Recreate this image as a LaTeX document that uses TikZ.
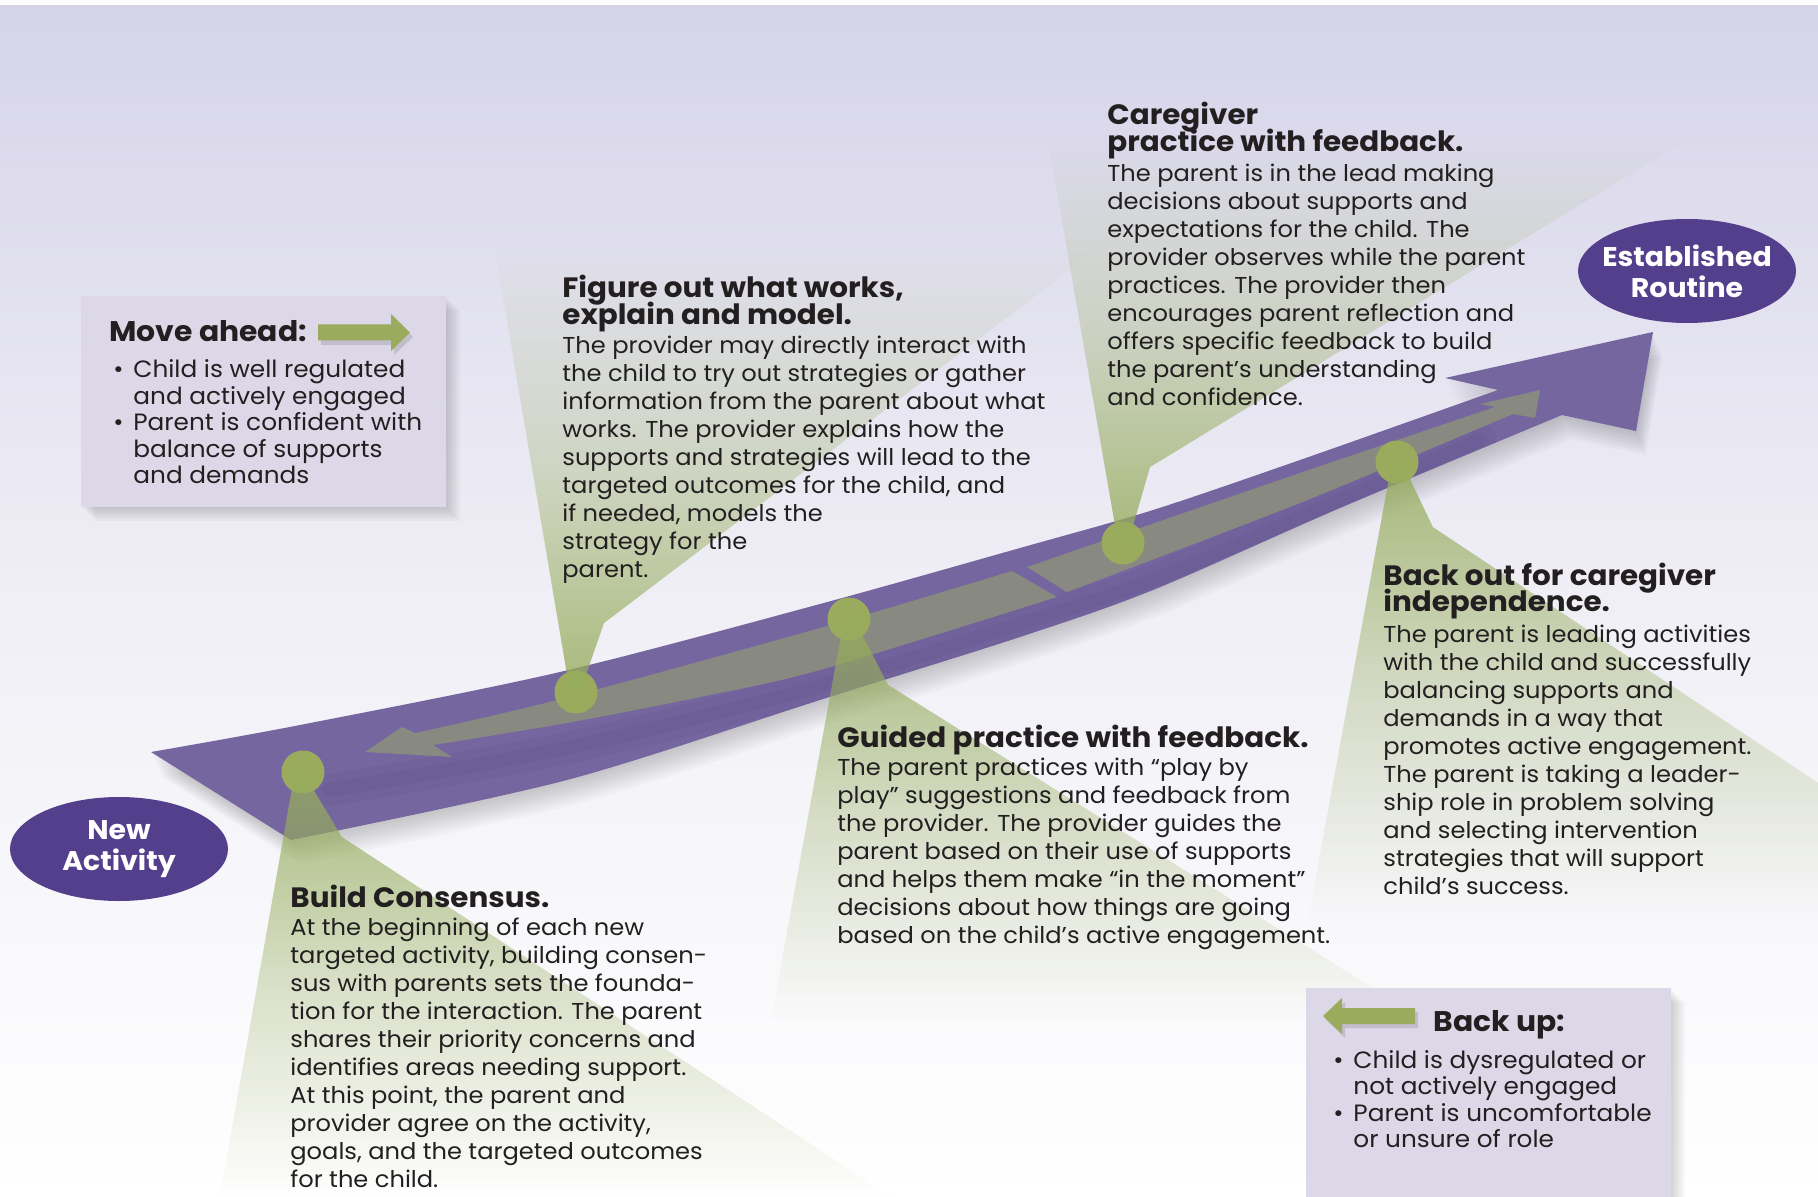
\documentclass[tikz,border=0pt]{standalone}
\usepackage{fontspec}
\setmainfont{Poppins}[FakeStretch=1.05]
\usetikzlibrary{shapes.geometric,fadings,calc}

\definecolor{ink}{HTML}{231F20}
\definecolor{bgtop}{RGB}{213,211,232}
\definecolor{bgmid}{RGB}{240,239,246}
\definecolor{arrowpurple}{RGB}{117,102,160}
\definecolor{arrowdeep}{RGB}{88,72,128}
\definecolor{lanegrey}{RGB}{136,137,128}
\definecolor{leaf}{RGB}{154,171,94}
\definecolor{beamgreen}{RGB}{150,172,92}
\definecolor{badge}{RGB}{83,63,139}
\definecolor{panelfill}{RGB}{220,216,232}

\tikzfading[name=fade down, top color=transparent!5, bottom color=transparent!100, middle color=transparent!62]
\tikzfading[name=fade up, top color=transparent!100, bottom color=transparent!5, middle color=transparent!62]

\newcommand{\bodyfont}{\fontsize{11.5}{14}\selectfont}
\newcommand{\headfont}{\fontsize{14}{13.35}\selectfont\bfseries}
\newcommand{\panelhead}{\fontsize{14.2}{16}\selectfont\bfseries}
\newcommand{\panelfont}{\fontsize{11.8}{13.25}\selectfont}
\newcommand{\badgefont}{\fontsize{13.5}{15.5}\selectfont\bfseries}
% stacked lines, node base = first baseline
\newcommand{\stack}[1]{\vtop{\lineskiplimit=-\maxdimen\let\\\cr\halign{##\hfil\cr#1\crcr}}}
\newcommand{\bulitem}{\makebox[10pt][l]{•}}
\newcommand{\bulind}{\hspace*{10pt}}

% outline of the big purple arrow
\newcommand{\bandoutline}{(151,752) -- plot[smooth] coordinates {(151,752) (300,725) (560,672) (820,604) (1020,548) (1153,510) (1300,460) (1498,390)}
  -- (1445,378) -- (1653,332) -- (1636,431) -- (1562,415)
  -- plot[smooth] coordinates {(1562,415) (1340,508) (1153,590) (1020,637) (820,700) (567,780) (291,840)} -- cycle}

\tikzset{
  leafdot/.style={circle,fill=leaf,minimum size=21.5pt,inner sep=0pt},
  beamdown/.style={fill=beamgreen,fill opacity=0.85,path fading=fade down},
  beamup/.style={fill=beamgreen,fill opacity=0.85,path fading=fade up},
  badgeoval/.style={ellipse,fill=badge,inner sep=0pt,minimum width=109pt,minimum height=52pt},
  badgetext/.style={text=white,font=\badgefont,align=center,inner sep=0pt},
  panelbox/.style={rectangle,fill=panelfill,inner sep=0pt,minimum width=182.5pt},
  txt/.style={anchor=base west,inner sep=0pt,text=ink},
  leafarrow/.style={fill=leaf},
}

\begin{document}
\begin{tikzpicture}[x=0.5pt,y=-0.5pt]
  \useasboundingbox (0,0) rectangle (1818,1197);
  % backdrop
  \fill[top color=bgtop,bottom color=white,middle color=bgmid] (0,0) rectangle (1818,1197);
  \fill[white] (0,0) rectangle (1818,5);

  % soft shadow under the main arrow, then the arrow
  \foreach \s in {3,6,...,24}
    \fill[black,opacity=0.022,shift={(0.4*\s,\s)}] \bandoutline;
  \fill[arrowpurple] \bandoutline;
  \begin{scope}
    \clip \bandoutline;
    \draw[arrowdeep,opacity=0.12,line width=16pt,line cap=round]
      plot[smooth] coordinates {(330,790) (567,748) (820,686) (1020,624) (1153,580) (1340,500) (1480,440)};
    \draw[arrowdeep,opacity=0.12,line width=7pt,line cap=round]
      plot[smooth] coordinates {(330,790) (567,748) (820,686) (1020,624) (1153,580) (1340,500) (1480,440)};
  \end{scope}

  % grey lanes: back up (left) and move ahead (right)
  \fill[lanegrey] (1012,571) -- plot[smooth] coordinates {(1012,571) (820,628) (557,700) (415,733)}
    -- (402,727) -- (365,752) -- (452,757) -- (433,745)
    -- plot[smooth] coordinates {(433,745) (567,723) (700,697) (820,670) (1057,597)} -- cycle;
  \fill[lanegrey] (1027,567) -- plot[smooth] coordinates {(1027,567) (1300,473) (1495,407)}
    -- (1480,404) -- (1540,390) -- (1535,418) -- (1513,414)
    -- plot[smooth] coordinates {(1513,414) (1300,503) (1067,592)} -- cycle;

  % stops on the path
  \node[leafdot] (dotA) at (303,772) {};
  \node[leafdot] (dotB) at (576,692) {};
  \node[leafdot] (dotC) at (849,619) {};
  \node[leafdot] (dotD) at (1123,543) {};
  \node[leafdot] (dotE) at (1397,462) {};

  % spotlights from each stop
  \fill[beamdown] ($(dotA)+(-8,0)$) -- (dotA.center) -- (342,837) -- (892,1197) -- (220,1197) -- cycle;
  \fill[beamup] ($(dotB)+(-6,0)$) -- ($(dotB)+(4,0)$) -- (604,623) -- (1096,250) -- (495,250) -- cycle;
  \fill[beamdown] ($(dotC)+(-5,0)$) -- ($(dotC)+(5,0)$) -- (888,685) -- (1424,1020) -- (771,1020) -- cycle;
  \fill[beamup] ($(dotD)+(-5,0)$) -- ($(dotD)+(5,0)$) -- (1150,467) -- (1686,140) -- (1048,140) -- cycle;
  \fill[beamdown] ($(dotE)+(-5,0)$) -- ($(dotE)+(5,0)$) -- (1433,527) -- (1900,837) -- (1900,920) -- (1308,920) -- cycle;

  % step texts
  \node[txt,font=\headfont] (figtitle) at (562,298) {\stack{Figure out what works,\\explain and model.}};
  \node[txt,font=\bodyfont] (figbody) at (562,354) {\stack{The provider may directly interact with\\
    the child to try out strategies or gather\\information from the parent about what\\
    works. The provider explains how the\\supports and strategies will lead to the\\
    targeted outcomes for the child, and\\if needed, models the\\strategy for the\\parent.}};

  \node[txt,font=\headfont] (caretitle) at (1107,125) {\stack{Caregiver\\practice with feedback.}};
  \node[txt,font=\bodyfont] (carebody) at (1107,182) {\stack{The parent is in the lead making\\
    decisions about supports and\\expectations for the child. The\\
    provider observes while the parent\\practices. The provider then\\
    encourages parent reflection and\\offers specific feedback to build\\
    the parent’s understanding\\and confidence.}};

  \node[txt,font=\headfont] (outtitle) at (1383,585) {\stack{Back out for caregiver\\independence.}};
  \node[txt,font=\bodyfont] (outbody) at (1383,642) {\stack{The parent is leading activities\\
    with the child and successfully\\balancing supports and\\demands in a way that\\
    promotes active engagement.\\The parent is taking a leader-\\ship role in problem solving\\
    and selecting intervention\\strategies that will support\\child’s success.}};

  \node[txt,font=\headfont] (guidetitle) at (837,747) {Guided practice with feedback.};
  \node[txt,font=\bodyfont] (guidebody) at (837,775) {\stack{The parent practices with “play by\\
    play” suggestions and feedback from\\the provider. The provider guides the\\
    parent based on their use of supports\\and helps them make “in the moment”\\
    decisions about how things are going\\based on the child’s active engagement.}};

  \node[txt,font=\headfont] (buildtitle) at (290,907) {Build Consensus.};
  \node[txt,font=\bodyfont] (buildbody) at (290,935) {\stack{At the beginning of each new\\
    targeted activity, building consen-\\sus with parents sets the founda-\\
    tion for the interaction. The parent\\shares their priority concerns and\\
    identifies areas needing support.\\At this point, the parent and\\
    provider agree on the activity,\\goals, and the targeted outcomes\\for the child.}};

  % side panels
  \foreach \s in {2,4,...,14}
    \fill[black,opacity=0.025] (81+\s,296+\s) rectangle (446+\s,507+\s);
  \node[panelbox,minimum height=105.5pt] (aheadbox) at (263.5,401.5) {};
  \fill[black,opacity=0.12] (321,329) -- (394,329) -- (394,318) -- (413,337) -- (394,355) -- (394,345) -- (321,345) -- cycle;
  \fill[leafarrow] (318,324.5) -- (391,324.5) -- (391,314) -- (410,332.5) -- (391,351) -- (391,340.5) -- (318,340.5) -- cycle;
  \node[txt,font=\panelhead] (aheadtitle) at (109,342) {Move ahead:};
  \node[txt,font=\panelfont] (aheadlist) at (113,378) {\stack{\bulitem Child is well regulated\\
    \bulind and actively engaged\\\bulitem Parent is confident with\\\bulind balance of supports\\\bulind and demands}};

  \foreach \s in {2,4,...,14}
    \fill[black,opacity=0.025] (1306+\s,988+\s) rectangle (1671+\s,1220);
  \node[panelbox,minimum height=116pt] (backbox) at (1488.5,1104) {};
  \fill[black,opacity=0.12] (1418,1012) -- (1345,1012) -- (1345,1002) -- (1326,1020) -- (1345,1038) -- (1345,1028) -- (1418,1028) -- cycle;
  \fill[leafarrow] (1415,1008) -- (1342,1008) -- (1342,998) -- (1323,1016) -- (1342,1034) -- (1342,1024) -- (1415,1024) -- cycle;
  \node[txt,font=\panelhead] (backtitle) at (1433,1031) {Back up:};
  \node[txt,font=\panelfont] (backlist) at (1333,1068) {\stack{\bulitem Child is dysregulated or\\
    \bulind not actively engaged\\\bulitem Parent is uncomfortable\\\bulind or unsure of role}};

  % start and end badges
  \node[badgeoval,label={[badgetext]center:New\\Activity}] (newact) at (119,849) {};
  \node[badgeoval,label={[badgetext]center:Established\\Routine}] (routine) at (1687,271) {};
\end{tikzpicture}
\end{document}
